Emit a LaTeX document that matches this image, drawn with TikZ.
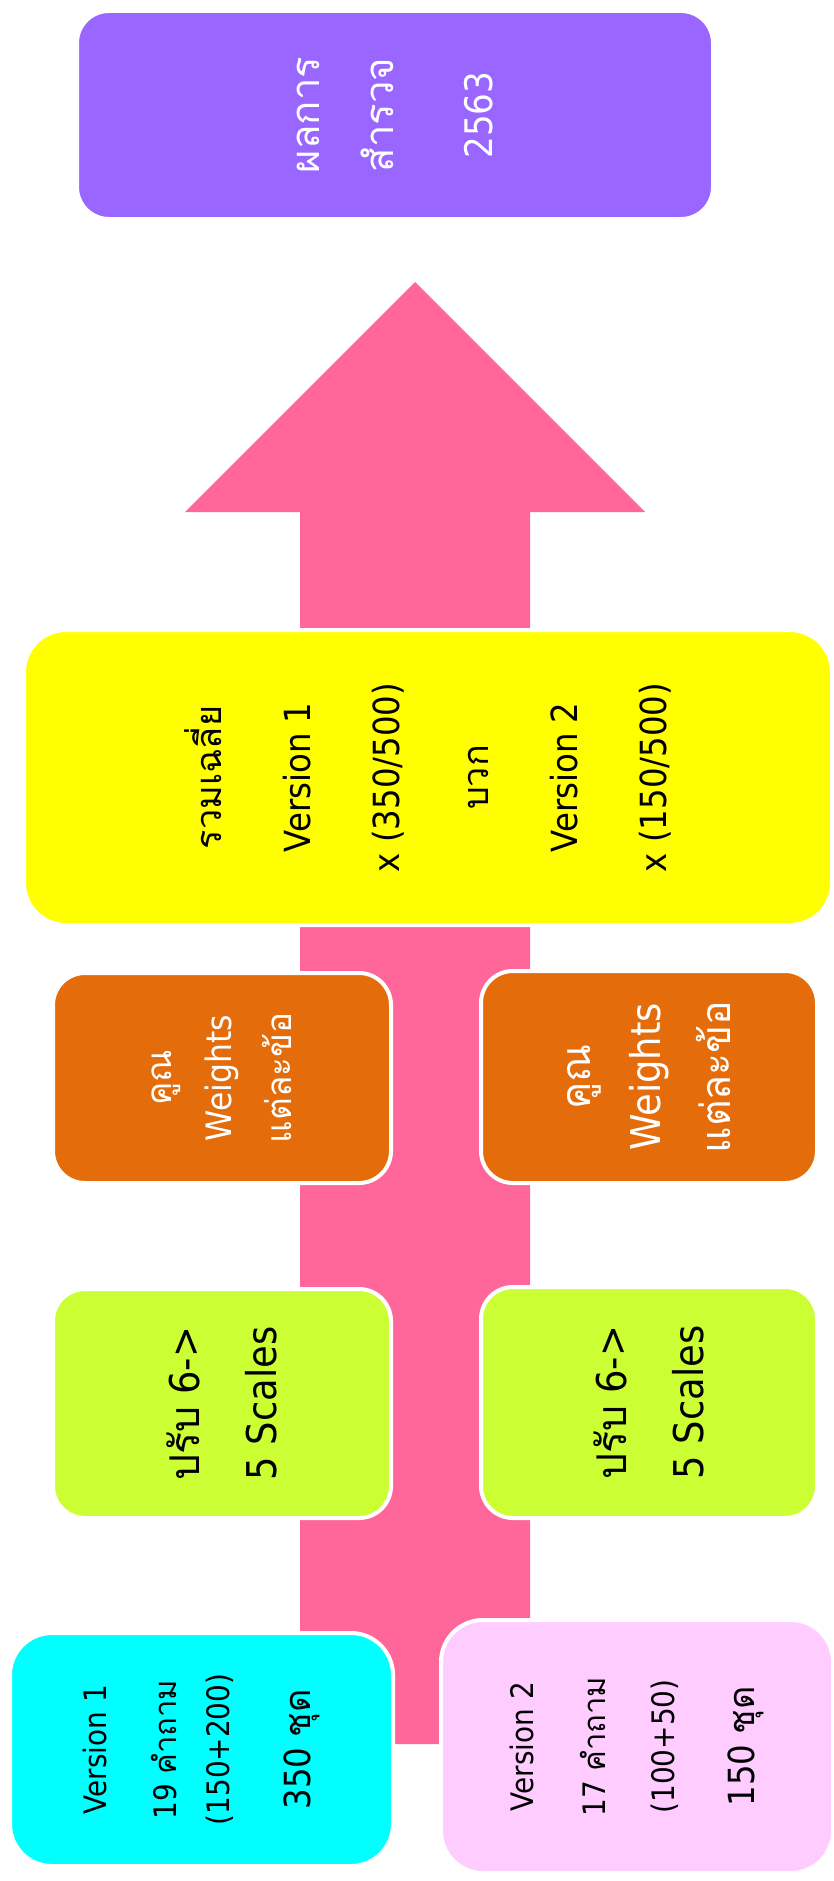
\documentclass[tikz,border=0pt]{standalone}
\usepackage{fontspec}
\setmainfont{DejaVu Sans}[FakeStretch=0.9]
\newfontfamily\thai[Script=Thai]{Loma}
\definecolor{arrowpink}{HTML}{FF6699}
\definecolor{resultpurple}{HTML}{9966FF}
\definecolor{avgyellow}{HTML}{FFFF00}
\definecolor{weightorange}{HTML}{E46C0A}
\definecolor{scalegreen}{HTML}{CCFF33}
\definecolor{vonecyan}{HTML}{00FFFF}
\definecolor{vtwopink}{HTML}{FFCCFF}
\begin{document}
\begin{tikzpicture}[x=1pt,y=-1pt,
  box/.style={draw=white, line width=4pt, rotate=90, inner sep=0pt, outer sep=0pt,
    align=center, text=black},
  r30/.style={rounded corners=32pt},
  r40/.style={rounded corners=42pt}]
\useasboundingbox (0,0) rectangle (834,1881);
% big block arrow behind the boxes
\coordinate (shaftL) at (300,1744);
\coordinate (shaftR) at (530,1744);
\coordinate (tip) at (415,282);
\fill[arrowpink] (shaftL) -- (300,512) -- (185,512) -- (tip) -- (645,512) -- (530,512) -- (shaftR) -- cycle;
% result box
\node[box, r30, fill=resultpurple, text=white, minimum width=208pt, minimum height=636pt,
  font=\fontsize{36}{73}\selectfont] (res) at (395,115)
  {{\thai\fontsize{40}{73}\selectfont ผลการ}\\[1pt] {\thai\fontsize{40}{73}\selectfont สำรวจ}\\[26pt] {\fontsize{38}{44}\selectfont 2563}};
% average box
\node[box, r40, fill=avgyellow, minimum width=295pt, minimum height=808pt,
  font=\fontsize{36}{89}\selectfont] (avg) at (428,777.5)
  {{\thai รวมเฉลี่ย}\\ Version 1\\ x (350/500)\\ {\thai บวก}\\ Version 2\\ x (150/500)};
% weight boxes
\node[box, r30, fill=weightorange, text=white, minimum width=210pt, minimum height=338pt,
  font=\fontsize{35}{60}\selectfont] (w1) at (222,1078)
  {{\thai คูณ}\\ Weights\\ {\thai แต่ละข้อ}};
\node[box, r30, fill=weightorange, text=white, minimum width=212pt, minimum height=336pt,
  font=\fontsize{41}{70}\selectfont] (w2) at (649,1077)
  {{\thai คูณ}\\ Weights\\ {\thai แต่ละข้อ}};
% scale boxes
\node[box, r30, fill=scalegreen, minimum width=229pt, minimum height=338pt,
  font=\fontsize{41}{77}\selectfont] (s1) at (222,1403.5)
  {{\thai ปรับ} 6->\\ 5 Scales};
\node[box, r30, fill=scalegreen, minimum width=231pt, minimum height=336pt,
  font=\fontsize{41}{77}\selectfont] (s2) at (649,1402.5)
  {{\thai ปรับ} 6->\\ 5 Scales};
% version boxes
\node[box, r40, fill=vonecyan, minimum width=233pt, minimum height=383pt,
  font=\fontsize{31}{62}\selectfont] (v1) at (201.5,1749.5)
  {Version 1\\[8pt] 19 {\thai คำถาม}\\[-9pt] (150+200)\\[19pt] {\fontsize{36}{40}\selectfont 350 {\thai ชุด}}};
\node[box, r40, fill=vtwopink, minimum width=253pt, minimum height=392pt,
  font=\fontsize{31}{62}\selectfont] (v2) at (637,1746.5)
  {Version 2\\[10pt] 17 {\thai คำถาม}\\[7pt] (100+50)\\[18pt] {\fontsize{36}{40}\selectfont 150 {\thai ชุด}}};
\end{tikzpicture}
\end{document}
